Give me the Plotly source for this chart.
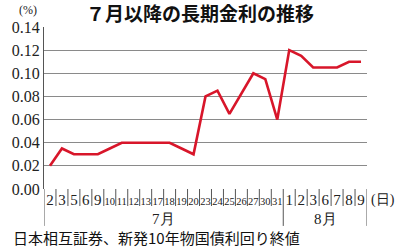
import plotly.graph_objects as go

july_days = ["2","3","5","6","9","10","11","12","13","17","18","19","20","23","24","25","26","27","30","31"]
aug_days = ["1","2","3","6","7","8","9"]
july_vals = [0.020,0.035,0.030,0.030,0.030,0.035,0.040,0.040,0.040,0.040,0.040,0.035,0.030,0.080,0.085,0.065,0.083,0.100,0.095,0.060]
aug_vals = [0.120,0.115,0.105,0.105,0.105,0.110,0.110]
y_ticks = [0.00,0.02,0.04,0.06,0.08,0.10,0.12,0.14]

days = july_days + aug_days
vals = july_vals + aug_vals
idx = list(range(len(days)))
n = len(days)

def lab(d):
    size = 15 if len(d) == 1 else 10.5
    return f"<span style='font-size:{size}px'>{d}</span>"

fig = go.Figure()
fig.add_trace(go.Scatter(x=idx, y=vals, mode="lines",
                         line=dict(color="#d8162a", width=2.6), hoverinfo="skip"))

serif = "Liberation Serif, Times New Roman, serif"
sans = "Noto Sans CJK JP, sans-serif"

shapes = []
long_bounds = {-0.5, len(july_days) - 0.5, n - 0.5}
for i in range(n + 1):
    b = i - 0.5
    shapes.append(dict(type="line", xref="x", yref="paper", x0=b, x1=b,
                       y0=0, y1=-0.228 if b in long_bounds else -0.105,
                       line=dict(color="#555", width=1)))

ann = [
    dict(text="(%)", xref="paper", yref="paper", x=-0.051, y=1.102, xanchor="center", yanchor="middle",
         showarrow=False, font=dict(family=serif, size=12, color="#222")),
    dict(text="7月", xref="x", yref="paper", x=(len(july_days) - 1) / 2, y=-0.185,
         xanchor="center", yanchor="middle", showarrow=False,
         font=dict(family=serif, size=15, color="#222")),
    dict(text="8月", xref="x", yref="paper", x=len(july_days) + (len(aug_days) - 1) / 2, y=-0.185,
         xanchor="center", yanchor="middle", showarrow=False,
         font=dict(family=serif, size=15, color="#222")),
    dict(text="(日)", xref="paper", yref="paper", x=1.048, y=-0.068, xanchor="center", yanchor="middle",
         showarrow=False, font=dict(family=serif, size=14, color="#222")),
    dict(text="日本相互証券、新発10年物国債利回り終値", xref="paper", yref="paper",
         x=-0.103, y=-0.302, xanchor="left", yanchor="middle", showarrow=False,
         font=dict(family=sans, size=15, color="#111")),
]

fig.update_layout(
    width=400, height=250,
    margin=dict(l=36, r=33, t=27, b=61),
    paper_bgcolor="white", plot_bgcolor="white",
    showlegend=False,
    title=dict(text="<b>７月以降の長期金利の推移</b>", x=0.5, xanchor="center",
               y=1 - 14 / 250, yanchor="middle", yref="container",
               font=dict(family=sans, size=19, color="#111")),
    xaxis=dict(type="linear", range=[-0.5, n - 0.5], tickmode="array",
               tickvals=idx, ticktext=[lab(d) for d in days], tickangle=0,
               tickfont=dict(family=serif, size=15, color="#222"),
               showgrid=False, zeroline=False, showline=False, ticks=""),
    yaxis=dict(range=[0, 0.14], tickmode="array", tickvals=y_ticks,
               ticktext=[f"{v:.2f}" for v in y_ticks],
               tickfont=dict(family=serif, size=16, color="#222"),
               showgrid=True, gridcolor="#8a8a8a", gridwidth=1.3,
               zeroline=False, showline=True, linecolor="#555", linewidth=1, ticks=""),
    shapes=shapes, annotations=ann,
)
fig.write_html("out.html")
